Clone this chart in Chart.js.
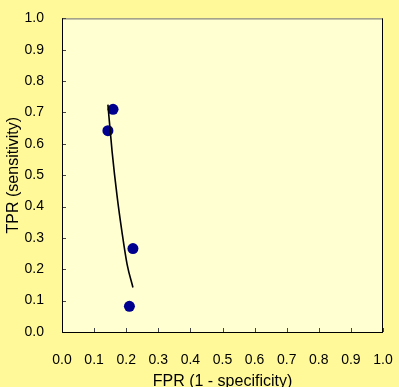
<!DOCTYPE html>
<html>
<head>
<meta charset="utf-8">
<script src="https://cdn.jsdelivr.net/npm/chart.js@4/dist/chart.umd.min.js"></script>
<style>
  html, body { margin: 0; padding: 0; background: #fff99a; }
  #wrap { width: 399px; height: 387px; }
</style>
</head>
<body>
<div id="wrap"><canvas id="roc" width="399" height="387"></canvas></div>
<script>
// study points (FPR, TPR)
const studyFpr = [0.159, 0.143, 0.221, 0.210];
const studyTpr = [0.710, 0.642, 0.266, 0.082];

// fitted summary curve
const curveFpr = [0.143, 0.156, 0.172, 0.187, 0.203, 0.221];
const curveTpr = [0.725, 0.576, 0.430, 0.318, 0.215, 0.142];

const axisTicks = [0, 0.1, 0.2, 0.3, 0.4, 0.5, 0.6, 0.7, 0.8, 0.9, 1.0];

const font = { family: 'Arial, "Liberation Sans", sans-serif', size: 14 };

// plot area fill, frame and inward tick marks
const plotFrame = {
    id: 'plotFrame',
    beforeDatasetsDraw(chart) {
        const { ctx, chartArea: a } = chart;
        ctx.save();
        ctx.fillStyle = '#ffffd2';
        ctx.fillRect(a.left, a.top, a.right - a.left, a.bottom - a.top);
        ctx.strokeStyle = '#6b6b6b';
        ctx.lineWidth = 1;
        ctx.strokeRect(a.left + 0.5, a.top + 0.5, a.right - a.left - 1, a.bottom - a.top);
        ctx.strokeStyle = '#000';
        ctx.beginPath();
        ctx.moveTo(a.right - 0.5, a.top);
        ctx.lineTo(a.right - 0.5, a.bottom);
        ctx.stroke();
        const xs = chart.scales.x, ys = chart.scales.y;
        ctx.strokeStyle = '#444';
        ctx.beginPath();
        axisTicks.forEach(v => {
            const px = Math.round(xs.getPixelForValue(v)) + 0.5;
            ctx.moveTo(px, a.bottom);
            ctx.lineTo(px, a.bottom - 4);
            const py = Math.round(ys.getPixelForValue(v)) + 0.5;
            ctx.moveTo(a.left, py);
            ctx.lineTo(a.left + 4, py);
        });
        ctx.stroke();
        // axis lines
        ctx.strokeStyle = '#000';
        ctx.beginPath();
        ctx.moveTo(a.left + 0.5, a.top);
        ctx.lineTo(a.left + 0.5, a.bottom + 0.5);
        ctx.lineTo(a.right, a.bottom + 0.5);
        ctx.stroke();
        ctx.restore();
    }
};

new Chart(document.getElementById('roc'), {
    type: 'scatter',
    data: {
        datasets: [
            {
                type: 'line',
                label: 'curve',
                data: curveFpr.map((x, i) => ({ x: x, y: curveTpr[i] })),
                borderColor: '#000',
                borderWidth: 1.6,
                pointRadius: 0,
                cubicInterpolationMode: 'monotone',
                fill: false
            },
            {
                label: 'studies',
                data: studyFpr.map((x, i) => ({ x: x, y: studyTpr[i] })),
                backgroundColor: '#00008f',
                borderColor: '#00008f',
                pointRadius: 5.5,
                pointBorderWidth: 0
            }
        ]
    },
    options: {
        responsive: false,
        animation: false,
        layout: { padding: { top: 15, right: 0, left: 0, bottom: 0 } },
        plugins: {
            legend: { display: false },
            tooltip: { enabled: false }
        },
        scales: {
            x: {
                type: 'linear',
                min: 0,
                max: 1,
                afterFit: s => { s.height = 55; s.paddingRight = 16; },
                afterBuildTicks: s => { s.ticks = axisTicks.map(v => ({ value: v })); },
                grid: { display: false },
                border: { display: false },
                ticks: {
                    color: '#000',
                    font: font,
                    padding: 12,
                    maxRotation: 0,
                    callback: v => v.toFixed(1)
                },
                title: {
                    display: true,
                    text: 'FPR (1 - specificity)',
                    color: '#000',
                    font: { family: font.family, size: 16 },
                    padding: { top: 0, bottom: -4 }
                }
            },
            y: {
                type: 'linear',
                min: 0,
                max: 1,
                afterFit: s => { s.width = 62; },
                afterBuildTicks: s => { s.ticks = axisTicks.map(v => ({ value: v })); },
                grid: { display: false },
                border: { display: false },
                ticks: {
                    color: '#000',
                    font: font,
                    padding: 10,
                    callback: v => v.toFixed(1)
                },
                title: {
                    display: true,
                    text: 'TPR (sensitivity)',
                    color: '#000',
                    font: { family: font.family, size: 16 },
                    padding: { top: 4, bottom: 0 }
                }
            }
        }
    },
    plugins: [plotFrame]
});
</script>
</body>
</html>
